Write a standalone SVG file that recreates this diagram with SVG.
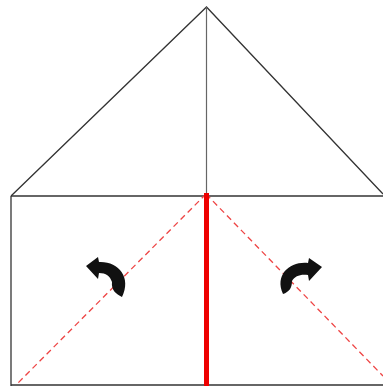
<svg xmlns="http://www.w3.org/2000/svg" width="383" height="386" viewBox="0 0 383 386">
<defs>
<style>
.edge{stroke:#333;stroke-width:1.3;fill:none}
.thin{stroke:#666;stroke-width:1.2;fill:none}
.valley{stroke:#e44;stroke-width:1.3;stroke-dasharray:6 4;fill:none}
.mount{stroke:#e00;stroke-width:5;fill:none}
.arr{fill:#111;stroke:none}
</style>
</defs>
<rect width="383" height="386" fill="#fff"/>
<g id="paper">
<polyline class="edge" points="11,196 206.5,7 383,194"/>
<line class="edge" x1="11" y1="196" x2="383" y2="196"/>
<line class="edge" x1="11" y1="196" x2="11" y2="386"/>
<line class="edge" x1="11" y1="385" x2="383" y2="385"/>
<line class="thin" x1="206.5" y1="7" x2="206.5" y2="196"/>
</g>
<g id="folds">
<line class="valley" x1="206" y1="194" x2="16" y2="385"/>
<line class="valley" x1="206" y1="194" x2="383" y2="376"/>
<line class="mount" x1="206.5" y1="193" x2="206.5" y2="386"/>
</g>
<g id="arrow-left">
<path class="arr" d="M86,266 L98,257 L99,262 C118,261 132,277 122,297 C116,294 111,290 112,282 C110,276 106,273 99,273 L98,279 Z"/>
</g>
<g id="arrow-right">
<path class="arr" d="M322,267 L309,258 L308,263 C291,261 274,274 283,294 C289,292 292,288 292,281 C295,276 300,274 308,275 L309,281 Z"/>
</g>
</svg>
